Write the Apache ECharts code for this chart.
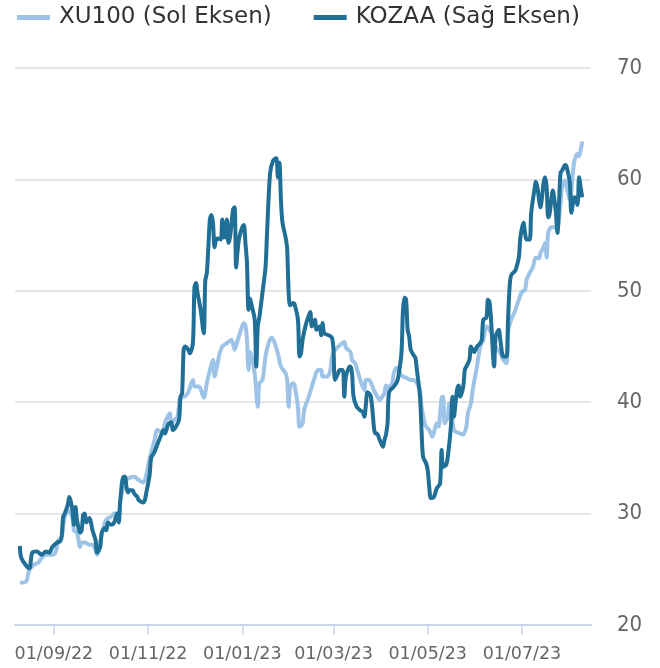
<!DOCTYPE html>
<html>
<head>
<meta charset="utf-8">
<script src="https://cdn.jsdelivr.net/npm/echarts@6/dist/echarts.min.js"></script>
<style>
html,body{margin:0;padding:0;background:#fff;}
#chart{width:660px;height:668px;}
</style>
</head>
<body>
<div id="chart"></div>
<script>
const seriesNames = ['XU100 (Sol Eksen)', 'KOZAA (Sağ Eksen)'];
const tickDates = ['2022-09-01','2022-11-01','2023-01-01','2023-03-01','2023-05-01','2023-07-01'];
const rightTicks = [20, 30, 40, 50, 60, 70];

const xu100Dates = ['2022-08-10','2022-08-14','2022-08-16','2022-08-19','2022-08-22','2022-08-24','2022-08-27','2022-08-31',
'2022-09-02','2022-09-04','2022-09-06','2022-09-08','2022-09-10','2022-09-13','2022-09-14','2022-09-16','2022-09-18','2022-09-19','2022-09-21','2022-09-24','2022-09-26','2022-09-28','2022-09-29',
'2022-10-01','2022-10-04','2022-10-06','2022-10-08','2022-10-10','2022-10-13','2022-10-14','2022-10-16','2022-10-18','2022-10-20','2022-10-23','2022-10-26','2022-10-29','2022-10-31',
'2022-11-02','2022-11-03','2022-11-05','2022-11-07','2022-11-10','2022-11-12','2022-11-15','2022-11-16','2022-11-18','2022-11-20','2022-11-22','2022-11-24','2022-11-27','2022-11-30',
'2022-12-01','2022-12-04','2022-12-07','2022-12-09','2022-12-11','2022-12-13','2022-12-14','2022-12-16','2022-12-17','2022-12-19','2022-12-22','2022-12-25','2022-12-27','2022-12-29','2022-12-30',
'2023-01-02','2023-01-03','2023-01-04','2023-01-05','2023-01-06','2023-01-07','2023-01-09','2023-01-11','2023-01-12','2023-01-14','2023-01-16','2023-01-18','2023-01-20','2023-01-22','2023-01-24','2023-01-26','2023-01-29','2023-01-30','2023-01-31',
'2023-02-01','2023-02-03','2023-02-04','2023-02-06','2023-02-07','2023-02-09','2023-02-10','2023-02-13','2023-02-15','2023-02-17','2023-02-19','2023-02-21','2023-02-22','2023-02-25','2023-02-27','2023-02-28',
'2023-03-02','2023-03-05','2023-03-08','2023-03-09','2023-03-12','2023-03-13','2023-03-15','2023-03-17','2023-03-19','2023-03-21','2023-03-22','2023-03-24','2023-03-26','2023-03-27','2023-03-29','2023-03-31',
'2023-04-01','2023-04-03','2023-04-04','2023-04-05','2023-04-08','2023-04-09','2023-04-11','2023-04-13','2023-04-15','2023-04-17','2023-04-20','2023-04-22','2023-04-24','2023-04-26','2023-04-27','2023-04-29','2023-04-30',
'2023-05-02','2023-05-04','2023-05-06','2023-05-07','2023-05-08','2023-05-10','2023-05-11','2023-05-12','2023-05-14','2023-05-15','2023-05-16','2023-05-18','2023-05-20','2023-05-22','2023-05-24','2023-05-26','2023-05-27','2023-05-29','2023-05-30',
'2023-06-02','2023-06-04','2023-06-06','2023-06-08','2023-06-10','2023-06-12','2023-06-14','2023-06-17','2023-06-19','2023-06-21','2023-06-22','2023-06-24','2023-06-26','2023-06-29',
'2023-07-01','2023-07-03','2023-07-04','2023-07-06','2023-07-08','2023-07-10','2023-07-12','2023-07-13','2023-07-15','2023-07-16','2023-07-17','2023-07-18','2023-07-20','2023-07-22','2023-07-24','2023-07-26','2023-07-27','2023-07-29','2023-07-30',
'2023-08-01','2023-08-03','2023-08-04','2023-08-06','2023-08-07','2023-08-08','2023-08-09'];
const xu100Values = [23.8,23.9,24.9,25.4,25.6,26.0,26.3,26.3,
26.5,27.6,27.9,29.7,30.3,29.6,28.5,28.3,27.0,27.4,27.4,27.2,27.2,26.7,26.3,
27.5,29.2,29.6,29.7,30.0,30.0,31.2,32.4,33.0,33.2,33.3,33.0,32.8,33.6,
35.0,35.5,36.5,37.5,37.3,38.2,39.0,38.1,38.4,38.7,40.5,40.5,40.9,42.0,
41.4,41.4,40.4,41.7,42.9,43.8,42.3,43.5,44.2,45.0,45.3,45.6,44.7,45.6,46.0,
47.1,46.9,45.6,42.9,44.5,44.1,42.6,39.6,41.7,42.0,44.1,45.3,45.8,45.3,44.4,43.2,42.6,42.0,39.6,
41.4,41.7,41.4,39.6,37.8,38.1,39.3,40.5,41.4,42.3,42.9,42.9,42.3,42.3,42.9,44.1,
44.7,45.1,45.4,44.9,44.5,43.8,43.5,42.6,41.7,41.1,42.0,42.0,41.5,41.1,40.6,40.2,
40.4,40.8,41.5,41.3,41.7,42.6,43.1,42.6,42.3,42.2,42.0,42.0,41.7,41.1,39.6,38.1,37.8,
37.5,36.9,37.8,38.1,37.8,40.4,40.5,38.1,38.7,39.9,39.3,37.5,37.3,37.2,37.1,37.8,39.0,39.9,41.0,
43.3,45.0,45.6,46.8,46.5,45.9,45.0,44.4,43.8,43.5,46.2,47.4,48.0,49.2,
49.9,50.1,51.0,51.6,52.1,53.0,52.9,53.4,53.9,54.3,53.0,55.2,55.7,55.7,55.7,57.9,59.3,59.9,59.3,
58.2,60.6,61.7,62.3,62.1,62.6,63.4];

const kozaaDates = ['2022-08-10','2022-08-11','2022-08-16','2022-08-18','2022-08-21','2022-08-24','2022-08-27','2022-08-29','2022-08-31',
'2022-09-03','2022-09-05','2022-09-06','2022-09-07','2022-09-08','2022-09-10','2022-09-11','2022-09-13','2022-09-14','2022-09-15','2022-09-16','2022-09-18','2022-09-19','2022-09-20','2022-09-21','2022-09-22','2022-09-24','2022-09-25','2022-09-26','2022-09-28','2022-09-29',
'2022-10-01','2022-10-02','2022-10-04','2022-10-05','2022-10-06','2022-10-08','2022-10-10','2022-10-12','2022-10-13','2022-10-14','2022-10-16','2022-10-17','2022-10-18','2022-10-19','2022-10-20','2022-10-22','2022-10-23','2022-10-25','2022-10-26','2022-10-29','2022-10-31',
'2022-11-02','2022-11-03','2022-11-05','2022-11-07','2022-11-09','2022-11-11','2022-11-12','2022-11-14','2022-11-16','2022-11-17','2022-11-19','2022-11-21','2022-11-22','2022-11-23','2022-11-24','2022-11-25','2022-11-27','2022-11-28','2022-11-30',
'2022-12-01','2022-12-02','2022-12-03','2022-12-05','2022-12-07','2022-12-08','2022-12-09','2022-12-10','2022-12-11','2022-12-12','2022-12-13','2022-12-14','2022-12-15','2022-12-16','2022-12-18','2022-12-19','2022-12-20','2022-12-21','2022-12-22','2022-12-23','2022-12-24','2022-12-26','2022-12-27','2022-12-28','2022-12-29','2022-12-30',
'2023-01-01','2023-01-02','2023-01-03','2023-01-04','2023-01-05','2023-01-06','2023-01-07','2023-01-09','2023-01-10','2023-01-11','2023-01-12','2023-01-14','2023-01-16','2023-01-17','2023-01-19','2023-01-21','2023-01-23','2023-01-24','2023-01-25','2023-01-26','2023-01-27','2023-01-29','2023-01-30','2023-01-31',
'2023-02-01','2023-02-03','2023-02-04','2023-02-06','2023-02-07','2023-02-08','2023-02-09','2023-02-11','2023-02-13','2023-02-14','2023-02-15','2023-02-17','2023-02-18','2023-02-20','2023-02-21','2023-02-22','2023-02-23','2023-02-26','2023-02-28',
'2023-03-01','2023-03-02','2023-03-04','2023-03-05','2023-03-07','2023-03-08','2023-03-09','2023-03-11','2023-03-12','2023-03-13','2023-03-14','2023-03-16','2023-03-18','2023-03-20','2023-03-21','2023-03-22','2023-03-23','2023-03-25','2023-03-26','2023-03-28','2023-03-29','2023-03-31',
'2023-04-02','2023-04-03','2023-04-04','2023-04-05','2023-04-06','2023-04-09','2023-04-11','2023-04-12','2023-04-14','2023-04-15','2023-04-16','2023-04-17','2023-04-18','2023-04-19','2023-04-20','2023-04-22','2023-04-23','2023-04-24','2023-04-26','2023-04-27','2023-04-28','2023-04-30',
'2023-05-01','2023-05-02','2023-05-03','2023-05-05','2023-05-06','2023-05-07','2023-05-09','2023-05-10','2023-05-11','2023-05-13','2023-05-14','2023-05-16','2023-05-17','2023-05-18','2023-05-19','2023-05-20','2023-05-21','2023-05-22','2023-05-24','2023-05-25','2023-05-26','2023-05-28','2023-05-29','2023-05-31',
'2023-06-02','2023-06-04','2023-06-05','2023-06-06','2023-06-08','2023-06-09','2023-06-10','2023-06-11','2023-06-13','2023-06-14','2023-06-16','2023-06-17','2023-06-19','2023-06-21','2023-06-22','2023-06-23','2023-06-24','2023-06-26','2023-06-27','2023-06-29','2023-06-30',
'2023-07-02','2023-07-03','2023-07-04','2023-07-06','2023-07-07','2023-07-09','2023-07-10','2023-07-11','2023-07-13','2023-07-14','2023-07-15','2023-07-16','2023-07-17','2023-07-18','2023-07-19','2023-07-20','2023-07-21','2023-07-22','2023-07-23','2023-07-24','2023-07-25','2023-07-26','2023-07-27','2023-07-29','2023-07-30',
'2023-08-01','2023-08-02','2023-08-04','2023-08-05','2023-08-06','2023-08-07','2023-08-08','2023-08-09'];
const kozaaValues = [27.1,26.0,25.1,26.5,26.6,26.3,26.6,26.5,27.0,
27.4,27.5,27.9,29.7,30.0,30.8,31.5,30.3,29.0,30.6,29.4,28.3,28.5,29.9,30.0,29.2,29.6,29.2,28.5,27.6,26.5,
27.0,28.3,28.7,28.5,29.2,29.0,29.2,30.0,29.2,31.2,33.3,33.3,32.4,31.9,32.1,32.1,31.8,31.5,31.2,31.0,32.0,
33.5,35.0,35.5,36.2,36.9,37.5,37.2,38.0,38.2,37.5,37.8,38.4,40.5,40.8,44.7,45.0,44.7,44.4,45.3,
50.3,50.7,49.8,48.3,46.2,50.9,51.6,53.9,56.4,56.8,56.1,53.9,54.6,54.7,54.6,56.4,54.8,54.8,56.4,54.3,54.8,57.3,57.5,52.1,53.7,54.8,
55.7,55.9,54.3,52.5,48.3,49.3,48.7,47.4,43.2,46.8,47.6,49.8,52.1,55.2,60.6,61.7,61.9,60.2,61.5,58.1,56.1,54.8,53.8,49.8,
48.7,48.9,48.7,47.4,44.1,44.4,45.6,46.9,47.8,48.1,46.8,47.4,46.5,46.8,46.0,47.1,46.2,46.0,45.8,
44.7,42.0,42.6,42.9,42.9,40.5,42.3,43.1,43.2,42.6,40.5,39.6,39.3,39.1,38.7,39.8,40.9,40.6,39.6,37.2,37.2,36.6,
36.0,36.6,37.1,38.1,40.9,41.4,41.8,42.3,44.4,48.3,49.4,49.2,46.5,45.9,44.7,44.2,44.0,42.9,40.5,37.5,35.1,34.5,
33.9,32.4,31.4,31.5,31.9,32.3,32.7,35.7,34.2,34.4,35.1,37.8,40.5,38.7,39.9,41.1,41.5,40.5,41.4,42.9,43.2,43.8,45.0,44.5,
45.0,45.3,45.6,47.4,47.6,49.2,49.0,47.4,43.2,45.9,46.5,45.6,44.1,44.1,47.4,50.3,51.4,51.7,51.9,53.0,54.8,
56.1,55.2,54.6,54.6,57.0,59.0,59.8,59.3,57.5,58.4,59.7,60.2,59.3,56.6,57.0,58.2,59.0,58.2,57.0,55.2,57.9,60.6,60.8,61.3,61.1,
59.7,57.0,58.4,58.2,57.7,60.2,59.3,58.4];

function ts(s) { const p = s.split('-'); return new Date(+p[0], +p[1] - 1, +p[2]).getTime(); }
function pad(n) { return (n < 10 ? '0' : '') + n; }

const tickTimes = tickDates.map(ts);
const chart = echarts.init(document.getElementById('chart'), null, { renderer: 'canvas' });
chart.setOption({
  animation: false,
  backgroundColor: '#ffffff',
  color: ['#9dc3e6', '#1f6f96'],
  legend: {
    left: 12, top: 1, itemWidth: 33, itemHeight: 5, itemGap: 42, icon: 'rect',
    textStyle: { fontFamily: 'DejaVu Sans', fontSize: 23, color: '#333333', padding: [0, 0, 0, 4] },
    data: seriesNames
  },
  grid: { left: 15, right: 69, top: 68, bottom: 43, containLabel: false },
  xAxis: {
    type: 'value',
    min: new Date(2022, 7, 6, 20).getTime(),
    max: new Date(2023, 7, 14, 17).getTime(),
    axisLine: { show: true, lineStyle: { color: '#ccd6eb', width: 2 } },
    axisTick: { show: true, length: 10, lineStyle: { color: '#ccd6eb', width: 1.5 }, customValues: tickTimes },
    axisLabel: {
      margin: 20, fontFamily: 'DejaVu Sans', fontSize: 17.5, color: '#666666', hideOverlap: false,
      customValues: tickTimes,
      formatter: function (v) { const d = new Date(v); return pad(d.getDate()) + '/' + pad(d.getMonth() + 1) + '/' + pad(d.getFullYear() % 100); }
    },
    splitLine: { show: false }
  },
  yAxis: [
    { type: 'value', show: false, min: rightTicks[0], max: rightTicks[rightTicks.length - 1], interval: 10, splitLine: { show: false } },
    {
      type: 'value', position: 'right', min: rightTicks[0], max: rightTicks[rightTicks.length - 1], interval: 10,
      axisLine: { show: false }, axisTick: { show: false },
      axisLabel: { margin: 26, fontFamily: 'DejaVu Sans Condensed', fontSize: 22, color: '#666666' },
      splitLine: { show: true, lineStyle: { color: '#e6e6e6', width: 2 } }
    }
  ],
  series: [
    {
      name: seriesNames[0], type: 'line', yAxisIndex: 0, showSymbol: false, smooth: 0.3,
      lineStyle: { width: 4, color: '#9dc3e6' }, itemStyle: { color: '#9dc3e6' },
      data: xu100Dates.map((d, i) => [ts(d), xu100Values[i]])
    },
    {
      name: seriesNames[1], type: 'line', yAxisIndex: 1, showSymbol: false, smooth: 0.3,
      lineStyle: { width: 4, color: '#1f6f96' }, itemStyle: { color: '#1f6f96' },
      data: kozaaDates.map((d, i) => [ts(d), kozaaValues[i]])
    }
  ]
});
</script>
</body>
</html>
